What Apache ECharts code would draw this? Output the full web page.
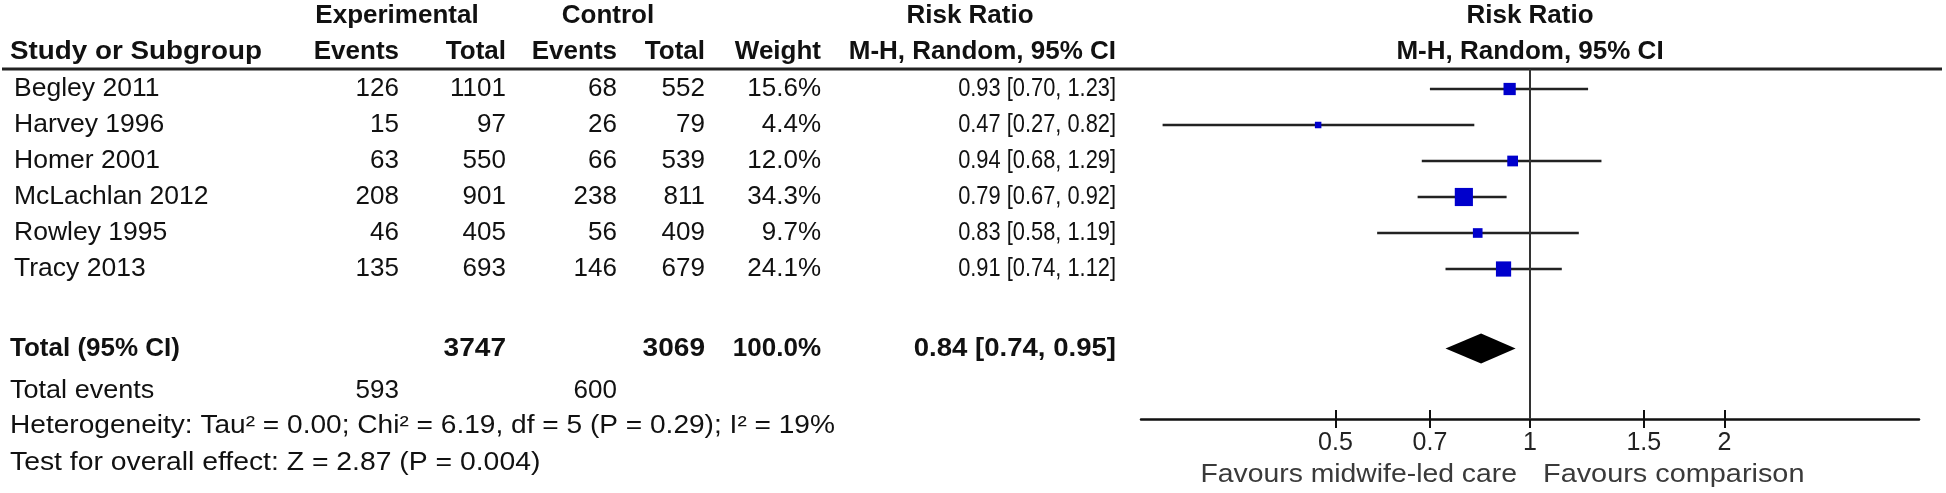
<!DOCTYPE html>
<html>
<head>
<meta charset="utf-8">
<script src="https://cdn.jsdelivr.net/npm/echarts@6/dist/echarts.min.js"></script>
<style>
html,body{margin:0;padding:0;background:#fff;}
#chart{width:1946px;height:493px;}
</style>
</head>
<body>
<div id="chart"></div>
<script>
// ---------------- data ----------------
const studies    = ['Begley 2011','Harvey 1996','Homer 2001','McLachlan 2012','Rowley 1995','Tracy 2013'];
const expEvents  = [126, 15, 63, 208, 46, 135];
const expTotal   = [1101, 97, 550, 901, 405, 693];
const ctrlEvents = [68, 26, 66, 238, 56, 146];
const ctrlTotal  = [552, 79, 539, 811, 409, 679];
const weights    = [15.6, 4.4, 12.0, 34.3, 9.7, 24.1];
const rr         = [0.93, 0.47, 0.94, 0.79, 0.83, 0.91];
const ciLow      = [0.70, 0.27, 0.68, 0.67, 0.58, 0.74];
const ciHigh     = [1.23, 0.82, 1.29, 0.92, 1.19, 1.12];
const pooled     = [0.84, 0.74, 0.95];          // RR, lower, upper
const totals     = [3747, 3069, 100.0];         // exp total, ctrl total, weight
const totalEvents = [593, 600];                 // exp, ctrl
const heteroText = 'Heterogeneity: Tau\u00B2 = 0.00; Chi\u00B2 = 6.19, df = 5 (P = 0.29); I\u00B2 = 19%';
const overallText = 'Test for overall effect: Z = 2.87 (P = 0.004)';
const tickValues = [0.5, 0.7, 1, 1.5, 2];
const nullLine   = [1];
const favoursLeft = 'Favours midwife-led care';
const favoursRight = 'Favours comparison';

// ---------------- layout ----------------
const W = 1946, H = 493;
const ROW0 = 89, PITCH = 36;                 // pixel y of first study row, row pitch
const HEAD_LINE_Y = 69, AXIS_Y = 419;
const PLOT_LEFT = 1141, PLOT_W = 778;
const rowH1 = (16 - ROW0) / PITCH, rowH2 = (52 - ROW0) / PITCH;
const rowTotal = 7.21, rowTotEv = 8.38, rowHet = 9.37, rowTest = 10.39;
const rowFav = (475 - ROW0) / PITCH;
const col = {head: 10, name: 14, expEv: 399, expTot: 506, ctrlEv: 617, ctrlTot: 705, weight: 821, ci: 1116,
             expHead: 397, ctrlHead: 608, rrHead: 970, plotHead: 1530, favL: 1517, favR: 1543};
const FONT = '"Liberation Sans", Arial, Helvetica, sans-serif';
const REG = 26, BOLD = 26;

const items = [];
function t(x, row, text, align, bold, sx, color, size) {
  items.push({x, row, text: String(text), align, bold: !!bold, sx: sx || 1,
              size: size || (bold ? BOLD : REG), color: color || '#111'});
}
const fmt2 = v => v.toFixed(2);
const ciStr = (a, b, c) => fmt2(a) + ' [' + fmt2(b) + ', ' + fmt2(c) + ']';

// headers
t(col.expHead, rowH1, 'Experimental', 'center', true);
t(col.ctrlHead, rowH1, 'Control', 'center', true);
t(col.rrHead, rowH1, 'Risk Ratio', 'center', true);
t(col.plotHead, rowH1, 'Risk Ratio', 'center', true);
t(col.head, rowH2, 'Study or Subgroup', 'left', true, 1.07);
t(col.expEv, rowH2, 'Events', 'right', true);
t(col.expTot, rowH2, 'Total', 'right', true);
t(col.ctrlEv, rowH2, 'Events', 'right', true);
t(col.ctrlTot, rowH2, 'Total', 'right', true);
t(col.weight, rowH2, 'Weight', 'right', true);
t(col.ci, rowH2, 'M-H, Random, 95% CI', 'right', true);
t(col.plotHead, rowH2, 'M-H, Random, 95% CI', 'center', true);
// study rows
studies.forEach((s, i) => {
  t(col.name, i, s, 'left', false, 1.02);
  t(col.expEv, i, expEvents[i], 'right');
  t(col.expTot, i, expTotal[i], 'right');
  t(col.ctrlEv, i, ctrlEvents[i], 'right');
  t(col.ctrlTot, i, ctrlTotal[i], 'right');
  t(col.weight, i, weights[i].toFixed(1) + '%', 'right');
  t(col.ci, i, ciStr(rr[i], ciLow[i], ciHigh[i]), 'right', false, 0.84);
});
// totals
t(col.head, rowTotal, 'Total (95% CI)', 'left', true, 1.0);
t(col.expTot, rowTotal, totals[0], 'right', true, 1.08);
t(col.ctrlTot, rowTotal, totals[1], 'right', true, 1.08);
t(col.weight, rowTotal, totals[2].toFixed(1) + '%', 'right', true);
t(col.ci, rowTotal, ciStr(pooled[0], pooled[1], pooled[2]), 'right', true, 1.06);
t(col.head, rowTotEv, 'Total events', 'left', false, 1.04);
t(col.expEv, rowTotEv, totalEvents[0], 'right');
t(col.ctrlEv, rowTotEv, totalEvents[1], 'right');
t(col.head, rowHet, heteroText, 'left', false, 1.08);
t(col.head, rowTest, overallText, 'left', false, 1.09);
t(col.favL, rowFav, favoursLeft, 'right', false, 1.09, '#3a3a3a');
t(col.favR, rowFav, favoursRight, 'left', false, 1.11, '#3a3a3a');

const chart = echarts.init(document.getElementById('chart'), null, {renderer: 'canvas'});

const logAxisBase = {
  type: 'log', logBase: 2, min: 0.25, max: 4, gridIndex: 1, position: 'bottom',
  splitLine: {show: false}, minorTick: {show: false}
};

const option = {
  animation: false,
  backgroundColor: '#fff',
  grid: [
    {left: 0, top: 0, width: W, height: H},
    {left: PLOT_LEFT, top: HEAD_LINE_Y, width: PLOT_W, height: AXIS_Y - HEAD_LINE_Y}
  ],
  xAxis: [
    {type: 'value', gridIndex: 0, min: 0, max: W, show: false},
    Object.assign({}, logAxisBase, {
      axisLine: {show: true, onZero: false, lineStyle: {color: '#111', width: 2.5}},
      axisTick: {show: true, length: 9, lineStyle: {color: '#111', width: 2}, customValues: tickValues},
      axisLabel: {show: true, customValues: tickValues, margin: 12, color: '#222',
                  fontFamily: FONT, fontSize: 25, formatter: v => String(v)}
    }),
    Object.assign({}, logAxisBase, {
      axisLine: {show: false, onZero: false},
      axisTick: {show: true, inside: true, length: 9, lineStyle: {color: '#111', width: 2}, customValues: tickValues},
      axisLabel: {show: false}
    })
  ],
  yAxis: [
    {type: 'value', gridIndex: 0, inverse: true, min: (0 - ROW0) / PITCH, max: (H - ROW0) / PITCH, show: false},
    {type: 'value', gridIndex: 1, inverse: true, min: (HEAD_LINE_Y - ROW0) / PITCH, max: (AXIS_Y - ROW0) / PITCH, show: false}
  ],
  graphic: [
    {type: 'line', silent: true, shape: {x1: 2, y1: HEAD_LINE_Y, x2: W - 4, y2: HEAD_LINE_Y},
     style: {stroke: '#222', lineWidth: 3}}
  ],
  series: [
    {
      type: 'custom', name: 'table', xAxisIndex: 0, yAxisIndex: 0, clip: false, silent: true,
      data: items.map(d => [d.x, d.row]),
      renderItem: function (params, api) {
        const d = items[params.dataIndex];
        const p = api.coord([d.x, d.row]);
        const font = (d.bold ? 'bold ' : '') + d.size + 'px ' + FONT;
        return {type: 'text', x: p[0], y: p[1], scaleX: d.sx, scaleY: 1,
          style: {text: d.text, font: font, fill: d.color,
                  align: d.align, verticalAlign: 'middle', textAlign: d.align, textVerticalAlign: 'middle'}};
      }
    },
    {
      type: 'custom', name: 'studies', xAxisIndex: 1, yAxisIndex: 1, clip: false, silent: true, z: 3,
      data: studies.map((s, i) => [rr[i], ciLow[i], ciHigh[i], i, weights[i]]),
      renderItem: function (params, api) {
        const row = api.value(3);
        const c = api.coord([api.value(0), row]);
        const l = api.coord([api.value(1), row]);
        const h = api.coord([api.value(2), row]);
        const side = 3.1 * Math.sqrt(api.value(4));
        return {type: 'group', children: [
          {type: 'line', shape: {x1: l[0], y1: c[1], x2: h[0], y2: c[1]}, style: {stroke: '#222', lineWidth: 2.5}},
          {type: 'rect', shape: {x: c[0] - side / 2, y: c[1] - side / 2, width: side, height: side}, style: {fill: '#0000cc'}}
        ]};
      },
      markLine: {
        silent: true, symbol: ['none', 'none'], label: {show: false},
        lineStyle: {color: '#333', width: 2, type: 'solid'},
        data: nullLine.map(v => ({xAxis: v}))
      }
    },
    {
      type: 'custom', name: 'pooled', xAxisIndex: 1, yAxisIndex: 1, clip: false, silent: true, z: 3,
      data: [[pooled[0], pooled[1], pooled[2], rowTotal]],
      renderItem: function (params, api) {
        const row = api.value(3);
        const c = api.coord([api.value(0), row]);
        const l = api.coord([api.value(1), row]);
        const h = api.coord([api.value(2), row]);
        const hh = 15;
        return {type: 'polygon', shape: {points: [[l[0], c[1]], [c[0], c[1] - hh], [h[0], c[1]], [c[0], c[1] + hh]]},
                style: {fill: '#000'}};
      }
    }
  ]
};
chart.setOption(option);
</script>
</body>
</html>
